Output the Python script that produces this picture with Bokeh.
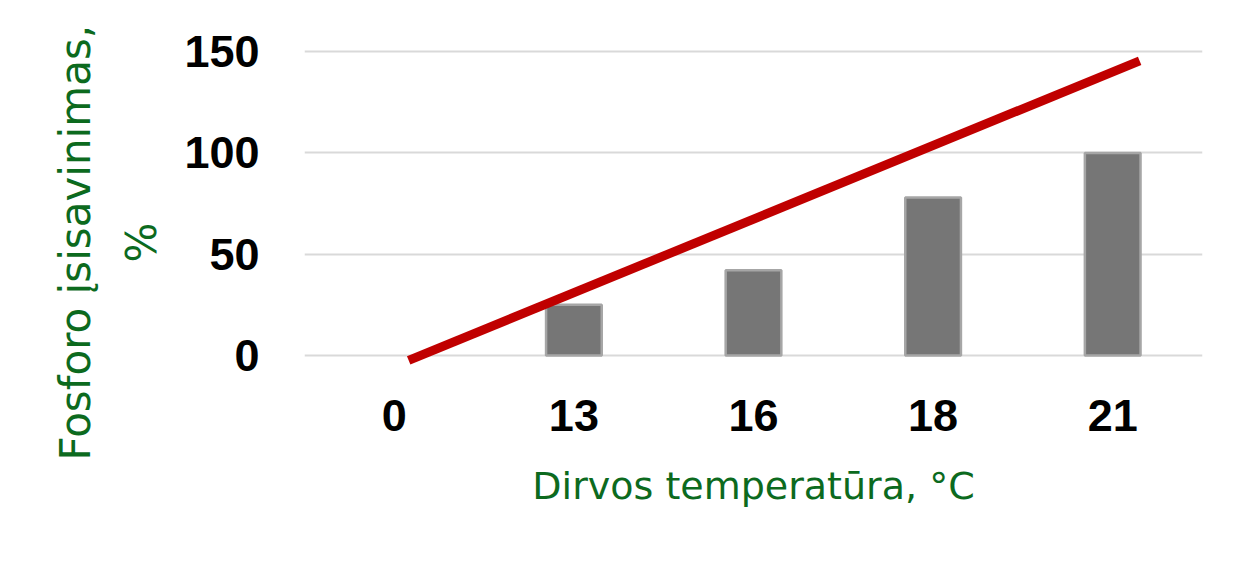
from bokeh.plotting import figure
from bokeh.models import Range1d, FixedTicker, Title
from bokeh.embed import file_html
from bokeh.resources import INLINE

categories = ["0", "13", "16", "18", "21"]
uptake = [0, 25, 42, 78, 100]
trend_x = [0.08, 4.15]
trend_y = [-2.5, 145.5]
y_ticks = [0, 50, 100, 150]
x_title = "Dirvos temperatūra, °C"
y_title_lines = ["Fosforo įsisavinimas,", "%"]

GREEN = "#0C6A1E"
TITLE_FONT = "DejaVu Sans"
idx = list(range(len(categories)))
bar_lines = ["#A6A6A6" if v > 0 else None for v in uptake]

p = figure(width=1244, height=564, output_backend="svg", toolbar_location=None,
           x_range=Range1d(-0.5, len(categories) - 0.5), y_range=Range1d(-5, 160),
           min_border_left=304, min_border_right=42, min_border_top=31, min_border_bottom=199)
p.outline_line_color = None
p.background_fill_color = "white"
p.border_fill_color = "white"

p.vbar(x=idx, top=uptake, width=0.31, fill_color="#767676", line_color=bar_lines, line_width=2.5)
p.line(x=trend_x, y=trend_y, line_color="#C00000", line_width=9)

p.xaxis.ticker = FixedTicker(ticks=idx)
p.xaxis.major_label_overrides = {i: c for i, c in zip(idx, categories)}
p.yaxis.ticker = FixedTicker(ticks=y_ticks)
p.xgrid.grid_line_color = None
p.ygrid.grid_line_color = "#D9D9D9"
p.ygrid.grid_line_width = 2

for ax in (p.xaxis, p.yaxis):
    ax.axis_line_color = None
    ax.major_tick_line_color = None
    ax.minor_tick_line_color = None
    ax.major_label_text_font = "Liberation Sans"
    ax.major_label_text_font_style = "bold"
    ax.major_label_text_font_size = "45px"
    ax.major_label_text_color = "black"

p.xaxis.major_label_standoff = 28
p.yaxis.major_label_standoff = 39
p.xaxis.axis_label = x_title
p.xaxis.axis_label_text_font = TITLE_FONT
p.xaxis.axis_label_text_font_style = "normal"
p.xaxis.axis_label_text_font_size = "38px"
p.xaxis.axis_label_text_color = GREEN
p.xaxis.axis_label_standoff = 30

# rotated two-line y title; the later-added title sits further out
for line_text, standoff, offset in zip(reversed(y_title_lines), [31, 0], [103, -95]):
    p.add_layout(Title(text=line_text, align="left", offset=offset, standoff=standoff,
                       text_font=TITLE_FONT, text_font_size="42px",
                       text_font_style="normal", text_color=GREEN), "left")

open("out.html", "w").write(file_html(p, INLINE))
